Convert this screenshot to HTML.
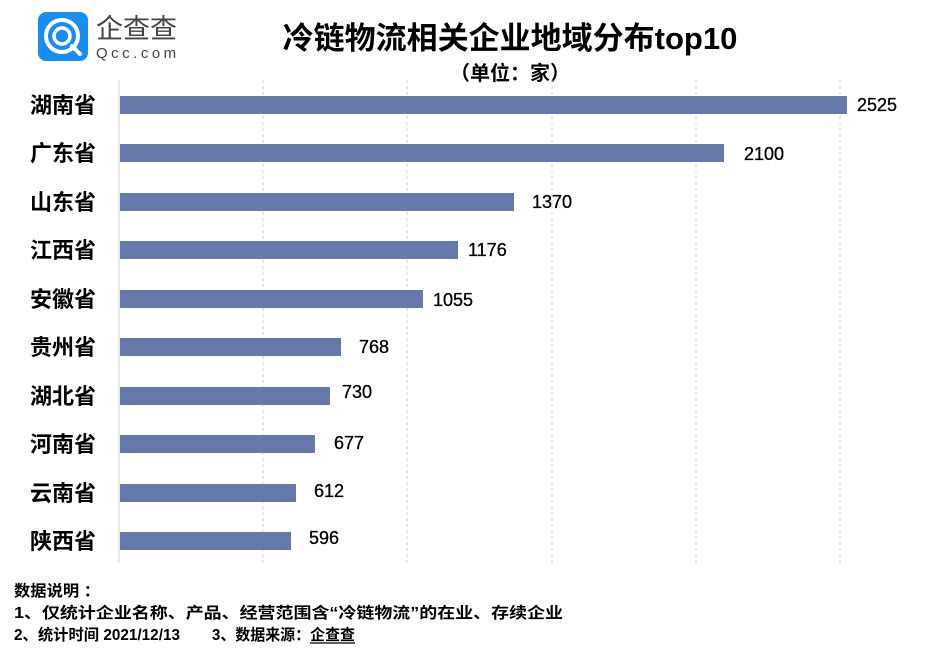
<!DOCTYPE html>
<html><head><meta charset="utf-8"><style>
body{margin:0;background:#fff;width:945px;height:661px;overflow:hidden;font-family:"Liberation Sans","Noto Sans CJK SC",sans-serif;}
</style></head><body>
<svg width="945" height="661" xmlns="http://www.w3.org/2000/svg" style="position:absolute;left:0;top:0">
<rect x="38" y="12" width="50" height="49" rx="8" fill="#1a8ef0"/>
<circle cx="62" cy="36" r="16" fill="none" stroke="#fff" stroke-width="4"/>
<circle cx="62" cy="36" r="8" fill="none" stroke="#fff" stroke-width="3.5"/>
<line x1="72" y1="46" x2="80" y2="54" stroke="#fff" stroke-width="4" stroke-linecap="round"/>
<text x="96" y="38" font-size="27" fill="#444" font-family="Noto Sans CJK SC,sans-serif">企查查</text>
<text x="96" y="58" font-size="15" fill="#444" letter-spacing="3.5">Qcc.com</text>
<text x="510" y="49" font-size="31" font-weight="bold" text-anchor="middle" fill="#000">冷链物流相关企业地域分布top10</text>
<text x="510" y="80" font-size="20" font-weight="bold" text-anchor="middle" fill="#000">（单位：家）</text>
<g stroke="#ccc" stroke-dasharray="3,3" stroke-width="1">
<line x1="263" y1="80" x2="263" y2="563"/><line x1="407" y1="80" x2="407" y2="563"/>
<line x1="552" y1="80" x2="552" y2="563"/><line x1="696" y1="80" x2="696" y2="563"/>
<line x1="840" y1="80" x2="840" y2="563"/>
</g>
<line x1="119" y1="80" x2="119" y2="563" stroke="#ccc"/>
<g fill="#6679ab">
<rect x="120" y="96" width="727" height="18"/>
<rect x="120" y="144" width="604" height="18"/>
<rect x="120" y="193" width="394" height="18"/>
<rect x="120" y="241" width="338" height="18"/>
<rect x="120" y="290" width="303" height="18"/>
<rect x="120" y="338" width="221" height="18"/>
<rect x="120" y="387" width="210" height="18"/>
<rect x="120" y="435" width="195" height="18"/>
<rect x="120" y="484" width="176" height="18"/>
<rect x="120" y="532" width="171" height="18"/>
</g>
<g font-size="22" font-weight="bold" fill="#000">
<text x="30" y="113">湖南省</text><text x="30" y="161">广东省</text><text x="30" y="210">山东省</text>
<text x="30" y="258">江西省</text><text x="30" y="307">安徽省</text><text x="30" y="355">贵州省</text>
<text x="30" y="404">湖北省</text><text x="30" y="452">河南省</text><text x="30" y="501">云南省</text>
<text x="30" y="549">陕西省</text>
</g>
<g font-size="18" fill="#000" stroke="#000" stroke-width="0.3">
<text x="857" y="111">2525</text><text x="744" y="160">2100</text><text x="532" y="208">1370</text>
<text x="468" y="256">1176</text><text x="433" y="306">1055</text><text x="359" y="353">768</text>
<text x="342" y="398">730</text><text x="334" y="449">677</text><text x="314" y="497">612</text>
<text x="309" y="544">596</text>
</g>
<g font-size="15.5" font-weight="bold" fill="#000">
<text x="14" y="596" textLength="86" lengthAdjust="spacingAndGlyphs">数据说明 ：</text>
<text x="14" y="618" textLength="549" lengthAdjust="spacingAndGlyphs">1、仅统计企业名称、产品、经营范围含“冷链物流”的在业、存续企业</text>
<text x="14" y="640" textLength="166" lengthAdjust="spacingAndGlyphs">2、统计时间  2021/12/13</text>
<text x="212" y="640" textLength="143" lengthAdjust="spacingAndGlyphs">3、数据来源：企查查</text>
<line x1="310" y1="643" x2="355" y2="643" stroke="#000" stroke-width="1.2"/>
</g>
</svg>
</body></html>
